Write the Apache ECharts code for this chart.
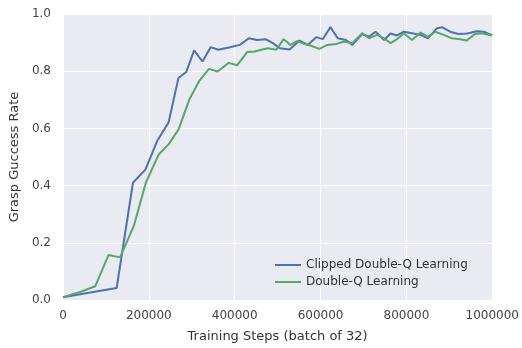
<!DOCTYPE html>
<html>
<head>
<meta charset="utf-8">
<script src="https://cdn.jsdelivr.net/npm/echarts@6/dist/echarts.min.js"></script>
<style>
  html, body { margin: 0; padding: 0; background: #ffffff; }
  #chart { width: 522px; height: 348px; }
</style>
</head>
<body>
<div id="chart"></div>
<script>
// Grasp success rate over training, two Q-learning variants
const seriesNames = ['Clipped Double-Q Learning', 'Double-Q Learning'];

const clippedSteps = [0, 60000, 125000, 163000, 192000, 219000, 246000, 269000, 287000, 305500,
  325000, 344000, 362000, 389000, 412000, 433000, 452000, 472000, 489000, 505000,
  528000, 551000, 570000, 590000, 605000, 623000, 640000, 659000, 674000, 697000,
  713000, 728000, 748000, 763000, 778000, 794000, 813000, 833000, 850000, 871000,
  883000, 902000, 921000, 942000, 964000, 980000, 1000000];
const clippedRate = [0.010, 0.025, 0.042, 0.410, 0.456, 0.555, 0.621, 0.776, 0.797, 0.873,
  0.834, 0.884, 0.875, 0.884, 0.892, 0.915, 0.909, 0.912, 0.898, 0.880,
  0.876, 0.907, 0.892, 0.919, 0.912, 0.954, 0.915, 0.909, 0.892, 0.930,
  0.921, 0.938, 0.909, 0.932, 0.925, 0.938, 0.933, 0.927, 0.915, 0.950,
  0.954, 0.938, 0.930, 0.932, 0.940, 0.938, 0.925];

const doubleSteps = [0, 40000, 75000, 106000, 133000, 165000, 193000, 223000, 246000, 269000,
  294000, 317000, 340000, 360000, 386000, 406000, 429000, 447000, 462000, 477000,
  497000, 514000, 530000, 545000, 558000, 578000, 597000, 616000, 636000, 655000,
  674000, 697000, 713000, 732000, 748000, 763000, 778000, 794000, 813000, 833000,
  850000, 867000, 887000, 906000, 925000, 940000, 960000, 975000, 1000000];
const doubleRate = [0.010, 0.028, 0.048, 0.157, 0.149, 0.259, 0.410, 0.509, 0.544, 0.596,
  0.700, 0.765, 0.808, 0.799, 0.829, 0.821, 0.867, 0.869, 0.875, 0.880,
  0.875, 0.912, 0.892, 0.905, 0.898, 0.889, 0.878, 0.892, 0.895, 0.904,
  0.898, 0.933, 0.915, 0.927, 0.915, 0.898, 0.912, 0.933, 0.909, 0.935,
  0.920, 0.938, 0.927, 0.915, 0.912, 0.907, 0.930, 0.933, 0.925];

const xTicks = { min: 0, max: 1000000, interval: 200000 };
const yTicks = { min: 0, max: 1.0, interval: 0.2 };

const pair = (xs, ys) => xs.map((x, i) => [x, ys[i]]);

const font = 'DejaVu Sans';
const chart = echarts.init(document.getElementById('chart'), null, { renderer: 'canvas' });

chart.setOption({
  animation: false,
  backgroundColor: '#ffffff',
  grid: {
    left: 62, right: 28, top: 14, bottom: 47,
    show: true, backgroundColor: '#EAEAF2', borderWidth: 0
  },
  xAxis: {
    type: 'value',
    min: xTicks.min, max: xTicks.max, interval: xTicks.interval,
    name: 'Training Steps (batch of 32)',
    nameLocation: 'middle', nameGap: 30,
    nameTextStyle: { fontFamily: font, fontSize: 13, color: '#333' },
    axisLine: { show: false }, axisTick: { show: false },
    axisLabel: { fontFamily: font, fontSize: 12, color: '#444', margin: 10,
      formatter: v => String(v) },
    splitLine: { show: true, lineStyle: { color: '#ffffff', width: 1 } }
  },
  yAxis: {
    type: 'value',
    min: yTicks.min, max: yTicks.max, interval: yTicks.interval,
    name: 'Grasp Guccess Rate',
    nameLocation: 'middle', nameGap: 37,
    nameTextStyle: { fontFamily: font, fontSize: 13, color: '#333' },
    axisLine: { show: false }, axisTick: { show: false },
    axisLabel: { fontFamily: font, fontSize: 12, color: '#444', margin: 12,
      formatter: v => v.toFixed(1) },
    splitLine: { show: true, lineStyle: { color: '#ffffff', width: 1 } }
  },
  legend: {
    orient: 'vertical',
    left: 270, top: 254,
    itemWidth: 26, itemHeight: 2, itemGap: 5,
    icon: 'rect',
    textStyle: { fontFamily: font, fontSize: 12, color: '#333' },
    data: seriesNames
  },
  series: [
    {
      name: seriesNames[0], type: 'line', data: pair(clippedSteps, clippedRate),
      showSymbol: false, symbol: 'none',
      lineStyle: { color: '#4C72B0', width: 2 }, itemStyle: { color: '#4C72B0' }
    },
    {
      name: seriesNames[1], type: 'line', data: pair(doubleSteps, doubleRate),
      showSymbol: false, symbol: 'none',
      lineStyle: { color: '#55A868', width: 2 }, itemStyle: { color: '#55A868' }
    }
  ]
});
</script>
</body>
</html>
